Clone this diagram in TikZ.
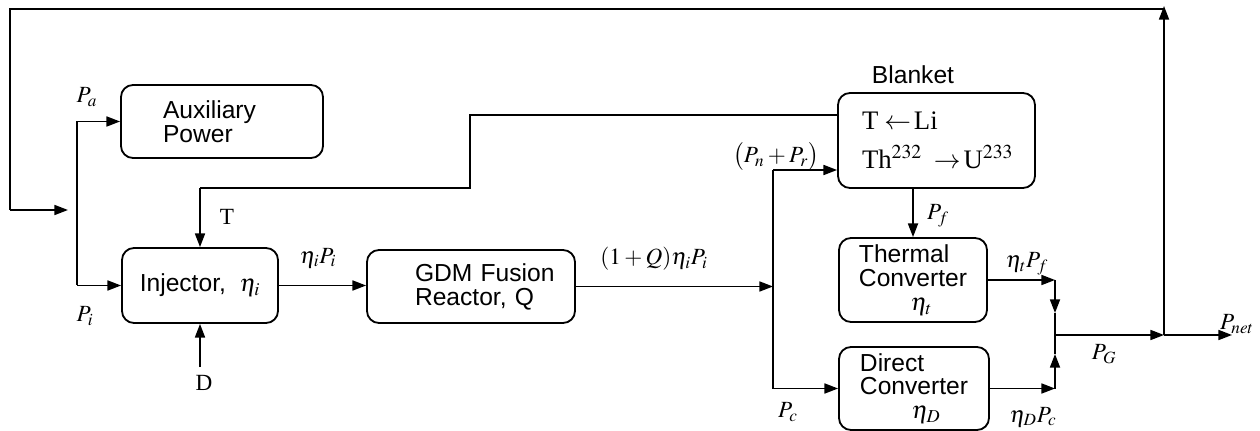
\documentclass[tikz,border=0pt]{standalone}
\usepackage{mathptmx}
\usepackage{fontspec}
\setmainfont{Liberation Serif}
\setsansfont{Liberation Sans}
\usetikzlibrary{arrows.meta}
\tikzset{
  ln/.style={line width=1.2pt},
  arr/.style={ln,-{Triangle[length=0.34cm,width=0.25cm]}},
  blk/.style={draw,line width=1.3pt,rounded corners=0.3cm,inner sep=0pt,
    font=\sffamily\fontsize{17.5}{17}\selectfont},
  lbl/.style={inner sep=0pt,font=\fontsize{16.5}{18}\selectfont},
}
\begin{document}
\begin{tikzpicture}[x=0.025cm,y=-0.025cm]
\useasboundingbox (0,0) rectangle (1260,431);
% boxes
\node[blk,text width=118*0.025cm,inner xsep=42*0.025cm,minimum height=73*0.025cm,align=left] (aux) at (222,121.5) {Auxiliary\\Power};
\node[blk,minimum width=156*0.025cm,minimum height=75*0.025cm] (inj) at (200,285.5) {Injector,\ \ $\eta_i$};
\node[blk,text width=112*0.025cm,inner xsep=48*0.025cm,minimum height=73*0.025cm,align=left] (gdm) at (471,286.5) {\mbox{GDM Fusion}\\\mbox{Reactor, Q}};
\node[blk,text width=149*0.025cm,inner xsep=24*0.025cm,minimum height=95*0.025cm,align=left,font=\rmfamily\fontsize{19}{19}\selectfont] (bla) at (936.5,140.5) {\mbox{T$\;\leftarrow\,$Li}\\[0.3cm]\mbox{Th$^{232}\;\rightarrow\,$U$^{233}$}};
\node[blk,minimum width=148*0.025cm,minimum height=84*0.025cm,align=left] (thc) at (913,280) {Thermal\\Converter\\\hspace*{2.1em}$\eta_t$};
\node[blk,minimum width=150*0.025cm,minimum height=83*0.025cm,align=left] (dic) at (914,388.5) {Direct\\Converter\\\hspace*{2.1em}$\eta_D$};
% coordinates
\coordinate (tr) at (1164,9);
\coordinate (tip) at (1164,6);
\coordinate (tl) at (10,9);
\coordinate (fl) at (10,210);
\coordinate (fe) at (68,210);
\coordinate (sa) at (77,121.5);
\coordinate (si) at (77,285.5);
\coordinate (ta) at (838,115);
\coordinate (tb) at (470,115);
\coordinate (tc) at (470,188);
\coordinate (td) at (200,188);
\coordinate (dd) at (200,367);
\coordinate (jq) at (773,286.5);
\coordinate (jt) at (773,170);
\coordinate (jb) at (773,388.5);
\coordinate (mt) at (1055,280);
\coordinate (mtt) at (1055,313);
\coordinate (mb) at (1055,388.5);
\coordinate (mbt) at (1055,354);
\coordinate (mg) at (1055,335);
\coordinate (og) at (1164,335);
\coordinate (on) at (1232,335);
% connectors
\draw[arr] (og) -- (tip);
\draw[ln] (tr) -- (tl) -- (fl);
\draw[arr] (fl) -- (fe);
\draw[ln] (sa) -- (si);
\draw[arr] (sa) -- (aux.west);
\draw[arr] (si) -- (inj.west);
\draw[ln] (ta) -- (tb) -- (tc) -- (td);
\draw[arr] (td) -- (inj.north);
\draw[arr] (dd) -- (inj.south);
\draw[arr] (inj.east) -- (inj.east -| gdm.west);
\draw[arr] (gdm.east) -- (jq);
\draw[ln] (jt) -- (jb);
\draw[arr] (jt) -- (jt -| bla.west);
\draw[arr] (jb) -- (dic.west);
\draw[arr] (thc.north |- bla.south) -- (thc.north);
\draw[arr] (thc.east) -- (mt);
\draw[arr] (mt) -- (mtt);
\draw[ln] (mtt) -- (mg);
\draw[arr] (dic.east) -- (mb);
\draw[arr] (mb) -- (mbt);
\draw[ln] (mbt) -- (mg);
\draw[arr] (mg) -- (og);
\draw[arr] (og) -- (on);
% labels
\node[lbl] (lpa) at (87,97) {$P_a$};
\node[lbl] (lpi) at (85,316) {$P_i$};
\node[lbl] (lt) at (227,217) {T};
\node[lbl] (ld) at (204,383) {D};
\node[lbl] (lep) at (318,258) {$\eta_i P_i$};
\node[lbl] (lq) at (654,259) {$(1+Q)\eta_i P_i$};
\node[lbl] (lpn) at (776,157) {$\bigl(P_n+P_r\bigr)$};
\node[font=\sffamily\fontsize{17.5}{17}\selectfont,inner sep=0pt] (lbl) at (913,75) {Blanket};
\node[lbl] (lpf) at (938,216) {$P_f$};
\node[lbl] (ltf) at (1027,264) {$\eta_t P_f$};
\node[lbl] (ldc) at (1033,417) {$\eta_D P_c$};
\node[lbl] (lpc) at (788,412) {$P_c$};
\node[lbl] (lpg) at (1104,354) {$P_G$};
\node[lbl] (lpnet) at (1237,324) {$P_{net}$};
\end{tikzpicture}
\end{document}
